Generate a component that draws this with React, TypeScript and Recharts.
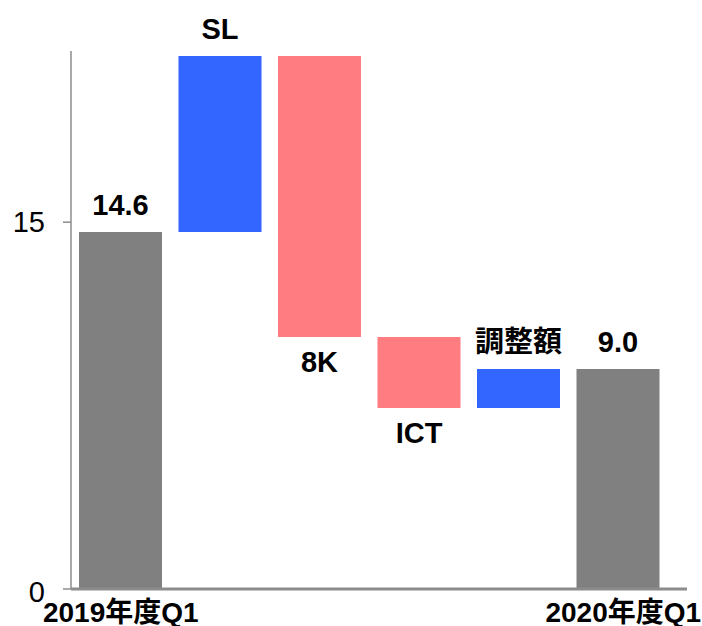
import React from 'react';
import { BarChart, Bar, XAxis, YAxis, Cell, LabelList } from 'recharts';

const categories = ['2019年度Q1', 'SL', '8K', 'ICT', '調整額', '2020年度Q1'];
const barLabels = ['14.6', 'SL', '8K', 'ICT', '調整額', '9.0'];
const lowValues = [0, 14.6, 10.3, 7.4, 7.4, 0];
const highValues = [14.6, 21.8, 21.8, 10.3, 9.0, 9.0];
const kinds = ['total', 'up', 'down', 'down', 'up', 'total'];
const yTicks = [0, 15];

const COLORS: Record<string, string> = {
  total: '#808080',
  up: '#3366FF',
  down: '#FF7C80',
};

const FONT = "'Liberation Sans', Arial, 'Noto Sans CJK JP', sans-serif";

const data = categories.map((c, i) => ({
  name: c,
  range: [lowValues[i], highValues[i]],
  label: barLabels[i],
  kind: kinds[i],
}));

const renderLabel = (props: any) => {
  const { x, y, width, height, index } = props;
  const top = Math.min(y, y + height);
  const bottom = Math.max(y, y + height);
  const kind = kinds[index];
  const cx = x + width / 2;
  const cy = kind === 'down' ? bottom + 25 : top - 27;
  return (
    <text
      x={cx}
      y={cy}
      dy="0.355em"
      textAnchor="middle"
      fontFamily={FONT}
      fontWeight="bold"
      fontSize={29}
      fill="#000"
    >
      {barLabels[index]}
    </text>
  );
};

const XTick = (props: any) => {
  const { x, y, payload, index } = props;
  const last = categories.length - 1;
  if (index !== 0 && index !== last) return null;
  return (
    <text
      x={x + (index === last ? 5 : 0)}
      y={y}
      dy="0.71em"
      textAnchor="middle"
      fontFamily={FONT}
      fontWeight="bold"
      fontSize={28}
      fill="#000"
    >
      {payload.value}
    </text>
  );
};

const YTick = (props: any) => {
  const { x, y, payload } = props;
  return (
    <text
      x={x}
      y={y + (payload.value === 0 ? 3 : 0)}
      dy="0.355em"
      textAnchor="end"
      fontFamily={FONT}
      fontSize={29}
      fill="#000"
    >
      {payload.value}
    </text>
  );
};

export default function App() {
  return (
    <div style={{ position: 'absolute', left: 0, top: 0 }}>
      <BarChart
        width={702}
        height={626}
        data={data}
        margin={{ top: 51, right: 15, bottom: 0, left: 0 }}
      >
        <XAxis
          dataKey="name"
          height={37}
          padding={{ left: 0, right: 19 }}
          axisLine={{ stroke: '#8c8c8c', strokeWidth: 3 }}
          tickLine={false}
          tickSize={6}
          tickMargin={7}
          interval={0}
          tick={<XTick />}
        />
        <YAxis
          width={71}
          domain={[0, 22]}
          ticks={yTicks}
          allowDataOverflow
          axisLine={{ stroke: '#8c8c8c', strokeWidth: 1.5 }}
          tickLine={{ stroke: '#8c8c8c', strokeWidth: 1.5 }}
          tickSize={8}
          tickMargin={18}
          tick={<YTick />}
        />
        <Bar dataKey="range" barSize={83} isAnimationActive={false}>
          {data.map((d, i) => (
            <Cell key={i} fill={COLORS[d.kind]} />
          ))}
          <LabelList dataKey="label" content={renderLabel} />
        </Bar>
      </BarChart>
    </div>
  );
}
